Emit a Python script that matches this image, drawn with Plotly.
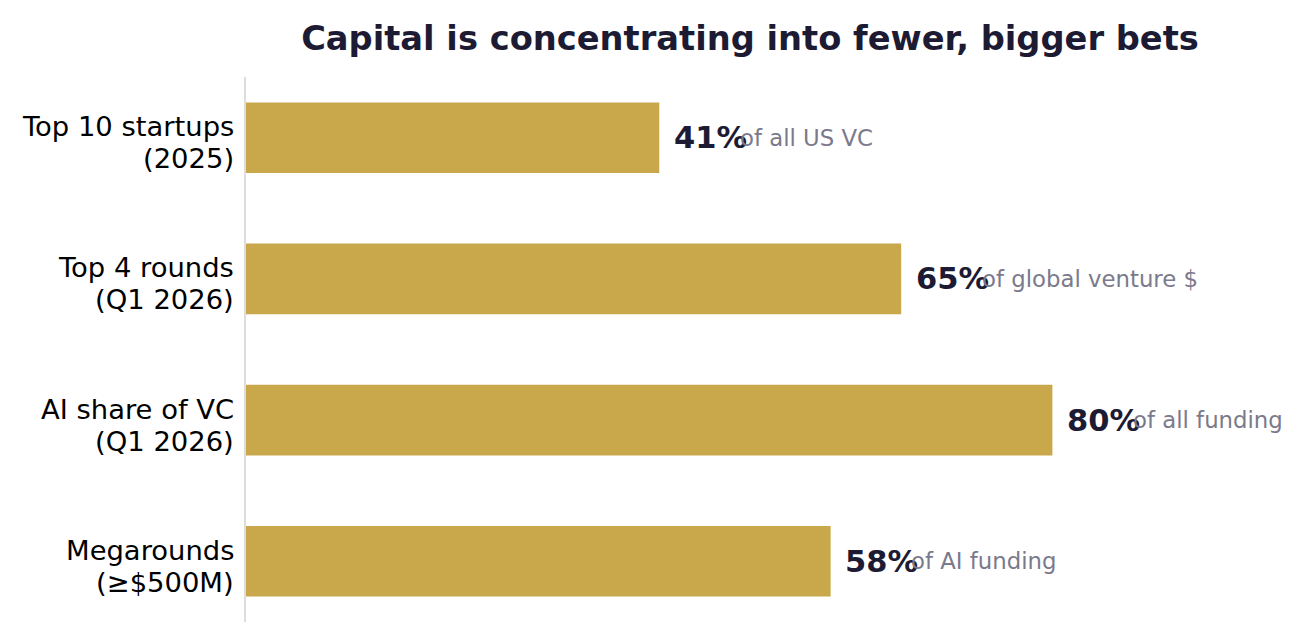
import plotly.graph_objects as go

categories = ["Top 10 startups<br>(2025)", "Top 4 rounds<br>(Q1 2026)", "AI share of VC<br>(Q1 2026)", "Megarounds<br>(≥$500M)"]
values = [41, 65, 80, 58]
value_labels = ["41%", "65%", "80%", "58%"]
descriptions = ["of all US VC", "of global venture $", "of all funding", "of AI funding"]

GOLD = "#C9A84C"
DARK = "#1C1B33"
GRAY = "#7B7A8C"
FONT = "DejaVu Sans"

fig = go.Figure()
fig.add_trace(go.Bar(
    x=values, y=list(range(len(categories))), orientation="h",
    marker=dict(color=GOLD, line=dict(width=0)), width=0.5,
    hoverinfo="skip", showlegend=False,
))

for i, (v, lab, desc) in enumerate(zip(values, value_labels, descriptions)):
    fig.add_annotation(x=v + 1.25, y=i, text=f"<b>{lab}</b>", showarrow=False,
                       xanchor="left", yanchor="middle",
                       font=dict(family=FONT, size=30.5, color=DARK))
    fig.add_annotation(x=v + 7.8, y=i, text=desc, showarrow=False,
                       xanchor="left", yanchor="middle",
                       font=dict(family=FONT, size=22.8, color=GRAY))

# category labels (two lines each, matplotlib-like line spacing)
for i, cat in enumerate(categories):
    lines = cat.split("<br>")
    for j, line in enumerate(lines):
        fig.add_annotation(x=0, xref="x", y=i, yref="y", text=line, showarrow=False,
                           xanchor="right", yanchor="middle", xshift=-10,
                           yshift=11 - 32 * j,
                           font=dict(family=FONT, size=27.4, color="black"))

fig.update_layout(
    width=1305, height=644,
    margin=dict(l=238, r=59, t=69, b=30),
    paper_bgcolor="white", plot_bgcolor="white",
    title=dict(text="<b>Capital is concentrating into fewer, bigger bets</b>",
               x=0.5, xref="paper", xanchor="center", y=0.953, yref="container", yanchor="middle",
               font=dict(family=FONT, size=33.7, color=DARK)),
    font=dict(family=FONT),
    xaxis=dict(range=[0, 100], visible=False, fixedrange=True),
    yaxis=dict(range=[3.43, -0.43], tickmode="array",
               tickvals=list(range(len(categories))), showticklabels=False,
               showgrid=False, zeroline=False, showline=True, linecolor="#DDDDDD", linewidth=2,
               ticks=""),
)

fig.write_html("out.html")
